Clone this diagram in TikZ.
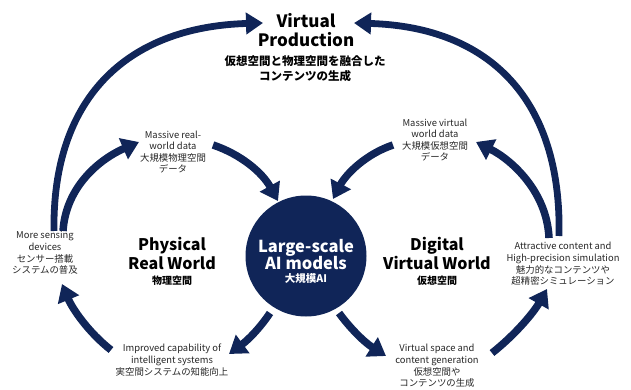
\documentclass[tikz,border=0pt]{standalone}
\usepackage{fontspec}
\setmainfont{Noto Sans CJK JP}
\usetikzlibrary{arrows.meta}
\definecolor{navy}{RGB}{16,37,88}
\tikzset{
  flow/.style={draw=navy, line width=7.5pt, -{Triangle[width=22pt,length=17pt]}},
  outerflow/.style={draw=navy, line width=6.8pt, -{Triangle[width=21pt,length=17pt]}},
  note/.style={align=center, font=\fontsize{9.4}{11.6}\selectfont, text=black!85, inner sep=0pt},
  world/.style={align=center, font=\bfseries\fontsize{16}{19}\selectfont, inner sep=0pt},
  worldjp/.style={align=center, font=\bfseries\fontsize{10}{13}\selectfont, inner sep=0pt},
}
\begin{document}
\begin{tikzpicture}[x=1pt,y=-1pt]
\useasboundingbox (0,0) rectangle (631,390);

% central model
\node[circle, fill=navy, minimum size=121pt, inner sep=0pt] (ai) at (306,256) {};
\node[align=center, text=white, inner sep=0pt] (aitext) at (306,261)
  {\bfseries\fontsize{16.5}{20}\selectfont Large-scale\\[-1pt]
   \bfseries\fontsize{16.5}{20}\selectfont AI models\\[1pt]
   \bfseries\fontsize{10.5}{13}\selectfont 大規模AI};

% top goal
\node[world, font=\bfseries\fontsize{17}{18.5}\selectfont] (vp) at (306,30) {Virtual\\Production};
\node[worldjp, font=\bfseries\fontsize{11.5}{15}\selectfont] (vpjp) at (305,69) {仮想空間と物理空間を融合した\\コンテンツの生成};

% worlds
\node[world] (phys) at (172,253) {Physical\\Real World};
\node[worldjp] (physjp) at (172,281) {物理空間};
\node[world] (digi) at (437,253) {Digital\\Virtual World};
\node[worldjp] (digijp) at (437,281) {仮想空間};

% stage notes
\node[note] (realdata) at (173,152) {Massive real-\\world data\\大規模物理空間\\データ};
\node[note] (virtdata) at (435,140) {Massive virtual\\world data\\大規模仮想空間\\データ};
\node[note] (sensing) at (45,253) {More sensing\\devices\\センサー搭載\\システムの普及};
\node[note] (content) at (563,264) {Attractive content and\\High-precision simulation\\魅力的なコンテンツや\\超精密シミュレーション};
\node[note] (improved) at (172,360) {Improved capability of\\intelligent systems\\実空間システムの知能向上};
\node[note] (vspace) at (437,366) {Virtual space and\\content generation\\仮想空間や\\コンテンツの生成};

% connector ends
\coordinate (sensOut) at (54,231);
\coordinate (sensIn) at (63,231);
\coordinate (sensTip) at (62,284);
\coordinate (vpL) at (263,23);
\coordinate (vpR) at (354,23);
\coordinate (contOut) at (559,236);
\coordinate (contIn) at (549,238);
\coordinate (contTip) at (547,289);
\coordinate (realL) at (139,142);
\coordinate (realR) at (213,145);
\coordinate (virtL) at (393,145);
\coordinate (virtR) at (476,142);
\coordinate (aiNW) at (278,201);
\coordinate (aiNE) at (333,199);
\coordinate (aiSW) at (270,313);
\coordinate (aiSE) at (339,313);
\coordinate (impTip) at (229,354);
\coordinate (impOut) at (111,350);
\coordinate (vsTip) at (386,356);
\coordinate (vsOut) at (492,353);

% outer arcs to the top
\draw[outerflow] (sensOut) .. controls (52,100) and (125,27) .. (vpL);
\draw[outerflow] (contOut) .. controls (562,100) and (490,27) .. (vpR);

% inner cycle
\draw[flow] (sensIn) .. controls (66,185) and (102,158) .. (realL);
\draw[flow] (realR) .. controls (240,154) and (262,172) .. (aiNW);
\draw[flow] (virtL) .. controls (366,154) and (346,174) .. (aiNE);
\draw[flow] (contIn) .. controls (547,192) and (512,160) .. (virtR);
\draw[flow] (aiSW) .. controls (260,328) and (248,340) .. (impTip);
\draw[flow] (impOut) .. controls (88,332) and (72,308) .. (sensTip);
\draw[flow] (aiSE) .. controls (350,328) and (364,342) .. (vsTip);
\draw[flow] (vsOut) .. controls (516,334) and (534,312) .. (contTip);
\end{tikzpicture}
\end{document}
